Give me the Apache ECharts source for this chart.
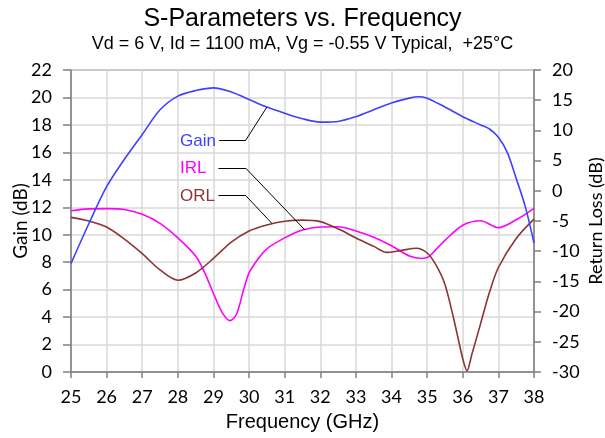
<!DOCTYPE html>
<html>
<head>
<meta charset="utf-8">
<style>
  html, body { margin: 0; padding: 0; background: #fff; }
  #chart { width: 605px; height: 438px; }
</style>
<script src="https://cdn.jsdelivr.net/npm/echarts@6/dist/echarts.min.js"></script>
</head>
<body>
<div id="chart"></div>
<script>
// frequency ticks (GHz)
var freqMin = 25, freqMax = 38;

// Gain (left axis, dB)
var gainFreq = [25, 25.5, 26, 26.5, 27, 27.5, 28, 28.5, 29, 29.5, 30, 30.5, 31, 31.5, 32, 32.5, 33, 33.5, 34, 34.5, 34.75, 35, 35.5, 36, 36.5, 36.75, 37, 37.25, 37.5, 37.75, 38];
var gainVal = [7.9, 10.8, 13.5, 15.5, 17.3, 19.1, 20.1, 20.5, 20.7, 20.4, 19.85, 19.3, 18.85, 18.45, 18.2, 18.25, 18.6, 19.1, 19.6, 19.95, 20.05, 19.95, 19.3, 18.6, 18.0, 17.7, 17.1, 16.0, 14.1, 12.1, 9.4];

// IRL (right axis, dB)
var irlFreq = [25, 25.5, 26, 26.5, 27, 27.5, 28, 28.5, 28.75, 29, 29.25, 29.47, 29.65, 29.85, 30, 30.25, 30.5, 31, 31.5, 32, 32.5, 33, 33.5, 34, 34.5, 34.85, 35.05, 35.25, 35.5, 36, 36.5, 37, 37.5, 38];
var irlVal = [-3.3, -3.0, -2.95, -3.1, -3.9, -5.4, -7.8, -10.8, -13.5, -17.0, -20.2, -21.5, -20.4, -16.3, -13.6, -11.3, -9.6, -7.8, -6.5, -6.0, -5.95, -6.65, -7.7, -9.1, -10.8, -11.2, -10.9, -9.7, -8.2, -5.7, -4.95, -6.1, -4.8, -2.9];

// ORL (right axis, dB)
var orlFreq = [25, 25.5, 26, 26.5, 27, 27.5, 28, 28.5, 29, 29.5, 30, 30.5, 31, 31.5, 32, 32.5, 33, 33.5, 33.87, 34.25, 34.7, 35, 35.25, 35.5, 35.75, 36, 36.12, 36.25, 36.5, 36.75, 37, 37.5, 38];
var orlVal = [-4.4, -5.0, -6.0, -8.0, -10.4, -13.1, -14.8, -13.6, -11.2, -8.5, -6.65, -5.65, -5.05, -4.85, -5.1, -6.3, -7.8, -9.2, -10.2, -9.9, -9.5, -10.3, -12.3, -15.5, -21.3, -27.8, -29.8, -27.2, -22.0, -16.8, -12.7, -7.9, -4.7];

// callout labels, placed in gain-axis units
var calloutText = ['Gain', 'IRL', 'ORL'];
var calloutColor = ['#4040FF', '#FF00FF', '#8B3535'];
var calloutPos = [[28.06, 16.82], [28.06, 14.84], [28.06, 12.82]];
var leaderStart = [[29.16, 16.9], [29.14, 14.84], [29.14, 12.84]];
var leaderKnee = [[29.91, 16.9], [29.91, 14.84], [29.91, 12.84]];
var leaderEnd = [[30.5, 19.3], [31.57, 10.34], [30.64, 10.83]];

function pairs(xs, ys) {
  return xs.map(function (x, i) { return [x, ys[i]]; });
}

var leaderLines = [];
for (var i = 0; i < 3; i++) {
  leaderLines.push([{ coord: leaderStart[i] }, { coord: leaderKnee[i] }]);
  leaderLines.push([{ coord: leaderKnee[i] }, { coord: leaderEnd[i] }]);
}

var calloutPoints = calloutText.map(function (t, i) {
  return {
    coord: calloutPos[i],
    label: { formatter: t, color: calloutColor[i] }
  };
});

var chart = echarts.init(document.getElementById('chart'));
var tickFont = { fontFamily: 'Lato', fontSize: 18, color: '#000' };

chart.setOption({
  animation: false,
  title: [
    {
      text: 'S-Parameters vs. Frequency',
      left: 'center',
      top: 2,
      textStyle: { fontFamily: 'Liberation Sans', fontSize: 25, fontWeight: 'normal', color: '#000' }
    },
    {
      text: 'Vd = 6 V, Id = 1100 mA, Vg = -0.55 V Typical,  +25°C',
      left: 'center',
      top: 30,
      textStyle: { fontFamily: 'Liberation Sans', fontSize: 18, fontWeight: 'normal', color: '#000' }
    }
  ],
  grid: {
    left: 71, right: 71, top: 70, bottom: 66,
    outerBoundsMode: 'none',
    containLabel: false,
    show: true, borderColor: '#808080', borderWidth: 1.5
  },
  xAxis: {
    type: 'value',
    min: freqMin, max: freqMax, interval: 1,
    name: 'Frequency (GHz)',
    nameLocation: 'middle',
    nameGap: 40,
    nameMoveOverlap: false,
    nameTextStyle: { fontFamily: 'Liberation Sans', fontSize: 20, color: '#000' },
    axisLine: { lineStyle: { color: '#808080', width: 1.5 } },
    axisTick: { length: 6, lineStyle: { color: '#808080', width: 1.5 } },
    axisLabel: Object.assign({ margin: 16 }, tickFont),
    splitLine: { lineStyle: { color: '#D9D9D9', width: 1.5 } }
  },
  yAxis: [
    {
      type: 'value',
      min: 0, max: 22, interval: 2,
      name: 'Gain (dB)',
      nameLocation: 'middle',
      nameGap: 41,
      nameMoveOverlap: false,
      nameTextStyle: { fontFamily: 'Lato', fontSize: 19, color: '#000' },
      axisLine: { show: true, lineStyle: { color: '#808080', width: 1.5 } },
      axisTick: { show: true, length: 8, lineStyle: { color: '#808080', width: 1.5 } },
      axisLabel: Object.assign({ margin: 19 }, tickFont),
      splitLine: { lineStyle: { color: '#D9D9D9', width: 1.5 } }
    },
    {
      type: 'value',
      min: -30, max: 20, interval: 5,
      name: 'Return Loss (dB)',
      nameLocation: 'middle',
      nameGap: 53,
      nameMoveOverlap: false,
      nameTextStyle: { fontFamily: 'Lato', fontSize: 18, color: '#000' },
      axisLine: { show: true, lineStyle: { color: '#808080', width: 1.5 } },
      axisTick: { show: true, length: 7, lineStyle: { color: '#808080', width: 1.5 } },
      axisLabel: Object.assign({ margin: 18 }, tickFont),
      splitLine: { show: false }
    }
  ],
  series: [
    {
      name: 'Gain',
      type: 'line',
      yAxisIndex: 0,
      data: pairs(gainFreq, gainVal),
      smooth: 0.3,
      symbol: 'none',
      lineStyle: { color: '#4040FF', width: 1.6 },
      z: 3,
      markLine: {
        silent: true,
        symbol: 'none',
        label: { show: false },
        lineStyle: { color: '#000', width: 1, type: 'solid' },
        data: leaderLines
      },
      markPoint: {
        silent: true,
        symbol: 'circle',
        symbolSize: 0,
        label: {
          show: true,
          position: 'right',
          distance: 0,
          fontFamily: 'Liberation Sans',
          fontSize: 17
        },
        data: calloutPoints
      }
    },
    {
      name: 'IRL',
      type: 'line',
      yAxisIndex: 1,
      data: pairs(irlFreq, irlVal),
      smooth: 0.3,
      symbol: 'none',
      lineStyle: { color: '#FF00FF', width: 1.6 },
      z: 2
    },
    {
      name: 'ORL',
      type: 'line',
      yAxisIndex: 1,
      data: pairs(orlFreq, orlVal),
      smooth: 0.3,
      symbol: 'none',
      lineStyle: { color: '#8B3535', width: 1.6 },
      z: 2
    }
  ]
});
</script>
</body>
</html>
